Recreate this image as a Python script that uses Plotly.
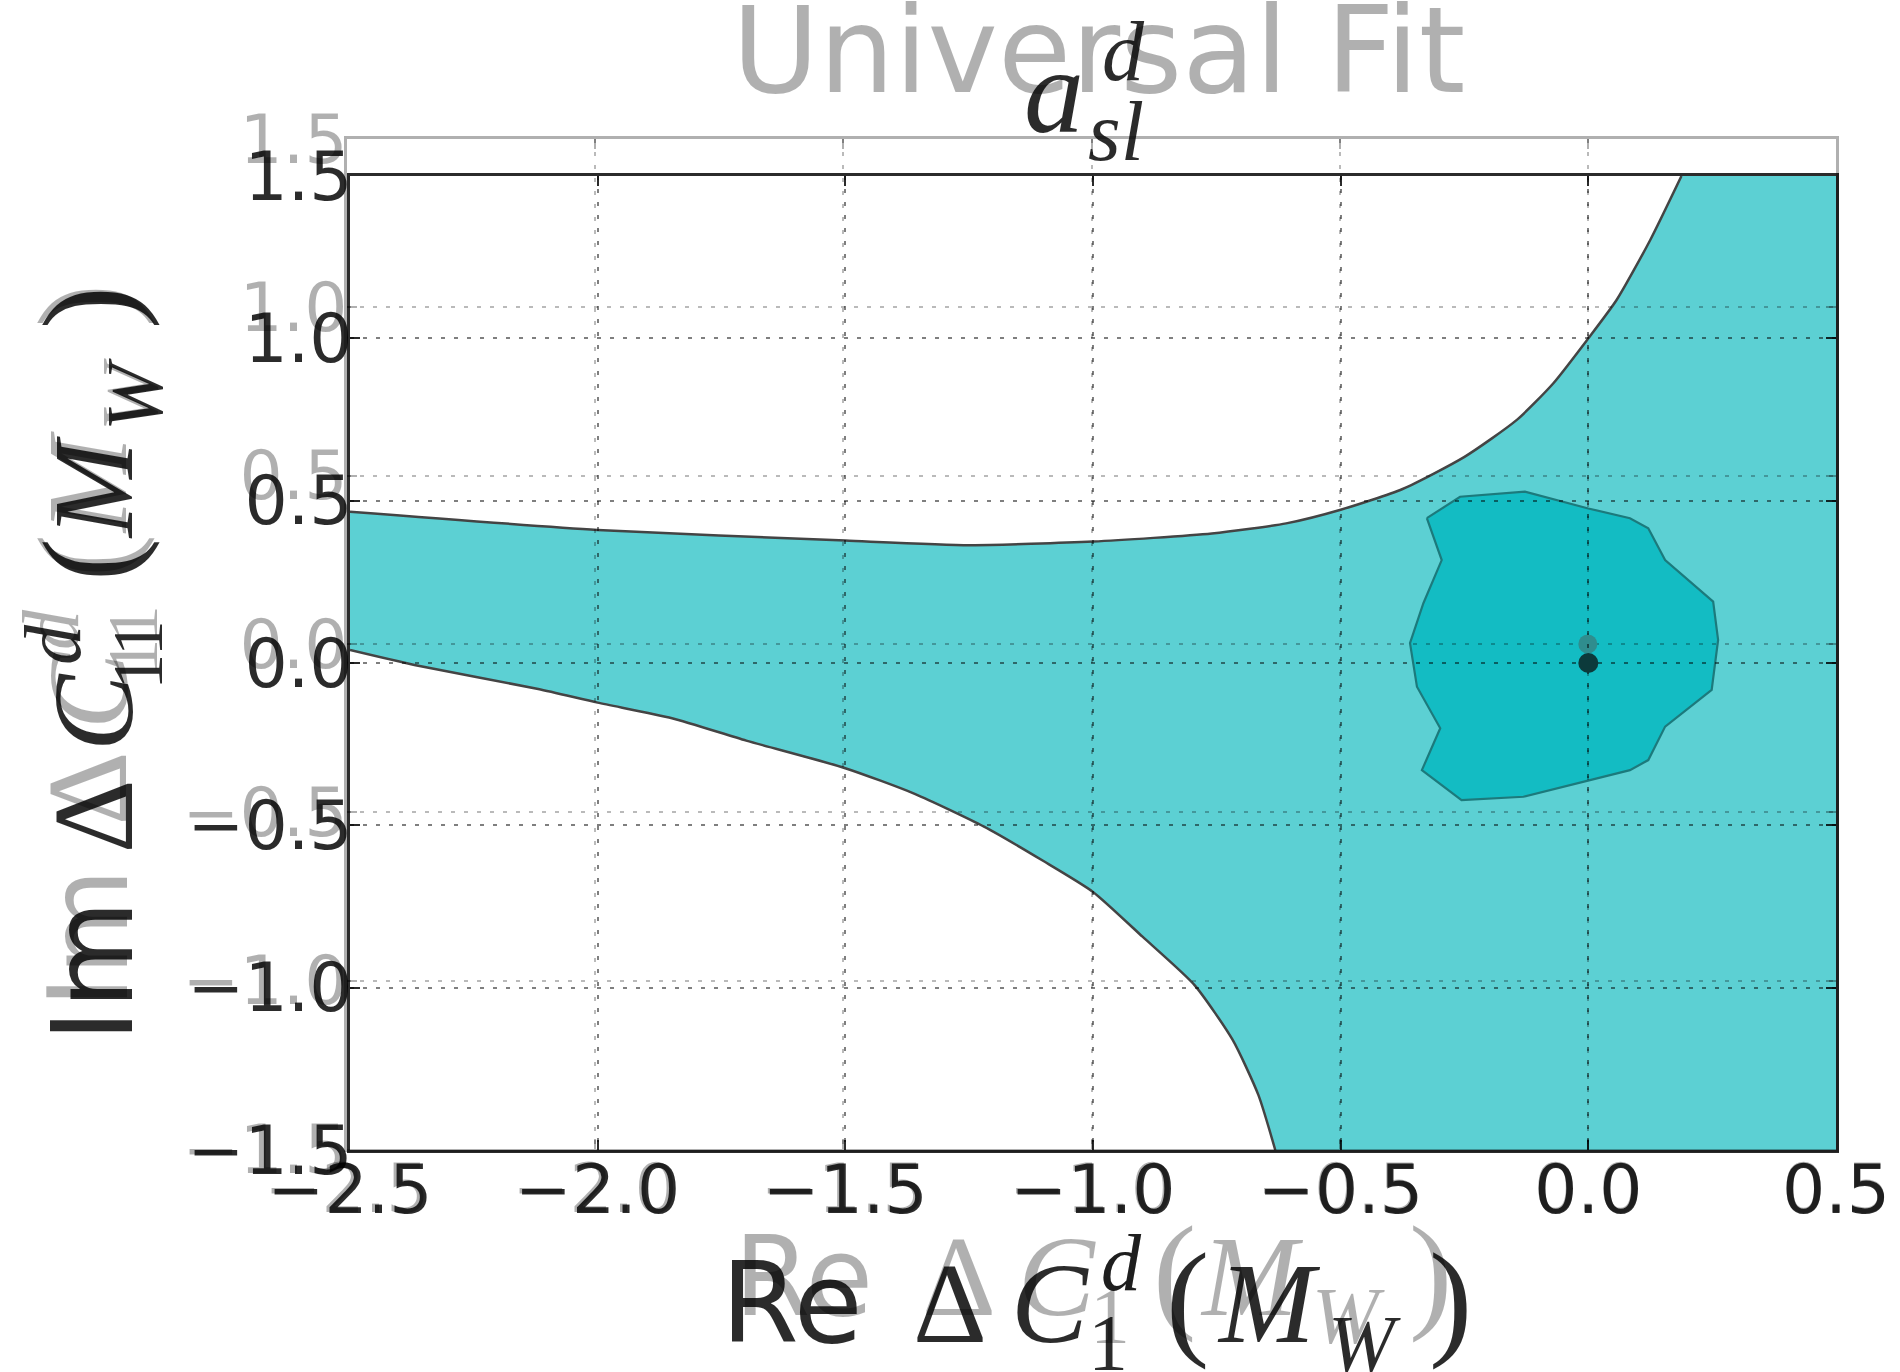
import plotly.graph_objects as go

W, H = 1900, 1372

# ---------------- data ----------------
x_ticks = [-2.5, -2.0, -1.5, -1.0, -0.5, 0.0, 0.5]
x_tick_text = ["\u22122.5", "\u22122.0", "\u22121.5", "\u22121.0", "\u22120.5", "0.0", "0.5"]
y_ticks = [-1.5, -1.0, -0.5, 0.0, 0.5, 1.0, 1.5]
y_tick_text = ["\u22121.5", "\u22121.0", "\u22120.5", "0.0", "0.5", "1.0", "1.5"]

# upper boundary of the allowed (light) region
upper_x = [-2.5, -2.0, -1.5, -1.25, -1.0, -0.76, -0.61, -0.5, -0.375, -0.25, -0.145, -0.071, 0.0, 0.057, 0.125, 0.188]
upper_y = [0.466, 0.410, 0.377, 0.363, 0.374, 0.399, 0.430, 0.472, 0.536, 0.635, 0.748, 0.861, 1.0, 1.118, 1.303, 1.5]
# lower boundary of the allowed (light) region
lower_x = [-2.5, -2.37, -2.12, -2.0, -1.85, -1.7, -1.5, -1.36, -1.22, -1.1, -1.0, -0.9, -0.795, -0.718, -0.666, -0.632]
lower_y = [0.04, -0.006, -0.08, -0.122, -0.17, -0.239, -0.324, -0.403, -0.504, -0.61, -0.705, -0.843, -0.992, -1.161, -1.331, -1.5]
# corners of the plot closing the light region on the right
corner_x = [0.5, 0.5]
corner_y = [1.5, -1.5]

# inner (darker) region
inner_x = [-0.326, -0.296, -0.333, -0.360, -0.346, -0.299, -0.336, -0.256, -0.131, 0.084, 0.121, 0.155,
           0.249, 0.262, 0.252, 0.155, 0.121, 0.084, 0.0, -0.128, -0.259, -0.326]
inner_y = [0.446, 0.317, 0.184, 0.061, -0.073, -0.201, -0.330, -0.422, -0.412, -0.330, -0.299, -0.196,
           -0.083, 0.071, 0.189, 0.317, 0.415, 0.446, 0.476, 0.528, 0.512, 0.446]

# best-fit / SM points
point_x = [0.0]
point_y = [0.0]

# ---------------- styling ----------------
SANS = "DejaVu Sans"
SERIF = "Liberation Serif"
MAIN_C = "rgba(0,0,0,0.83)"
GHOST_C = "rgba(0,0,0,0.31)"
LIGHT_FILL = "#5cd0d3"
DARK_FILL = "#13bcc3"
TICK_SIZE = 68

main_dx = [350 / W, 1836 / W]
main_dy = [1 - 1150 / H, 1 - 176 / H]
ghost_dx = [347 / W, 1836 / W]
ghost_dy = [1 - 1149 / H, 1 - 139 / H]

outer_x = upper_x + corner_x + lower_x[::-1]
outer_y = upper_y + corner_y + lower_y[::-1]

fig = go.Figure()
fig.add_trace(go.Scatter(x=outer_x, y=outer_y, fill="toself", fillcolor=LIGHT_FILL, mode="lines",
                         line=dict(width=0), xaxis="x", yaxis="y", hoverinfo="skip", showlegend=False))
fig.add_trace(go.Scatter(x=upper_x, y=upper_y, mode="lines",
                         line=dict(color="#444444", width=2.5, shape="spline", smoothing=0.6),
                         xaxis="x", yaxis="y", hoverinfo="skip", showlegend=False))
fig.add_trace(go.Scatter(x=lower_x, y=lower_y, mode="lines",
                         line=dict(color="#444444", width=2.5, shape="spline", smoothing=0.6),
                         xaxis="x", yaxis="y", hoverinfo="skip", showlegend=False))
fig.add_trace(go.Scatter(x=inner_x, y=inner_y, fill="toself", fillcolor=DARK_FILL, mode="lines",
                         line=dict(color="#1c7a7c", width=2.2), xaxis="x", yaxis="y",
                         hoverinfo="skip", showlegend=False))
# ghost point (faded overlay figure)
fig.add_trace(go.Scatter(x=point_x, y=point_y, mode="markers",
                         marker=dict(color="#2f8d8e", size=19, line=dict(width=0)),
                         xaxis="x2", yaxis="y2", hoverinfo="skip", showlegend=False))
# main point
fig.add_trace(go.Scatter(x=point_x, y=point_y, mode="markers",
                         marker=dict(color="#0c3a3b", size=20, line=dict(width=0)),
                         xaxis="x3", yaxis="y3", hoverinfo="skip", showlegend=False))


def axis(dom, rng, anchor, vals, text, color, gridcolor, standoff):
    return dict(domain=dom, range=rng, anchor=anchor, showgrid=True,
                gridcolor=gridcolor, griddash="4px,9px", gridwidth=2, zeroline=False,
                showline=True, linecolor=color, linewidth=2.5, mirror="ticks",
                ticks="inside", ticklen=10, tickwidth=2, tickcolor=color,
                tickmode="array", tickvals=vals, ticktext=text, automargin=False,
                ticklabelstandoff=standoff,
                tickfont=dict(family=SANS, size=TICK_SIZE, color=color), fixedrange=True)


layout = dict(
    width=W, height=H, margin=dict(l=0, r=0, t=0, b=0, pad=0, autoexpand=False),
    paper_bgcolor="white", plot_bgcolor="rgba(0,0,0,0)", showlegend=False,
    xaxis=dict(domain=main_dx, range=[-2.5, 0.5], anchor="y", visible=False),
    yaxis=dict(domain=main_dy, range=[-1.5, 1.5], anchor="x", visible=False),
    xaxis2=axis(ghost_dx, [-2.5, 0.5], "y2", x_ticks, x_tick_text, GHOST_C, "rgba(0,0,0,0.27)", -21),
    yaxis2=axis(ghost_dy, [-1.5, 1.5], "x2", y_ticks, y_tick_text, GHOST_C, "rgba(0,0,0,0.27)", -17),
    xaxis3=axis(main_dx, [-2.5, 0.5], "y3", x_ticks, x_tick_text, MAIN_C, "rgba(0,0,0,0.5)", -21),
    yaxis3=axis(main_dy, [-1.5, 1.5], "x3", y_ticks, y_tick_text, MAIN_C, "rgba(0,0,0,0.5)", -19),
)

K = {SANS: 0.346, SERIF: 0.3375}
annotations = []


def put(text, along, base, size, family, color, angle=0):
    k = K[family]
    if angle == 0:
        x, y = along, base - k * size
    else:
        x, y = base - k * size, along
    annotations.append(dict(text=text, x=x / W, y=1 - y / H, xref="paper", yref="paper",
                            xanchor="center", yanchor="middle", showarrow=False, textangle=angle,
                            font=dict(family=family, size=size, color=color)))


# ---- ghost (faded) figure texts ----
put("Universal Fit", 1098, 92, 119, SANS, GHOST_C)
# ghost x label
put("Re", 803, 1315, 110, SANS, GHOST_C)
put("\u0394", 959, 1315, 115, SERIF, GHOST_C)
put("<i>C</i>", 1057, 1315, 115, SERIF, GHOST_C)
put("<i>d</i>", 1121, 1290, 80, SERIF, GHOST_C)
put("1", 1110, 1343, 80, SERIF, GHOST_C)
put("(", 1174, 1315, 130, SERIF, GHOST_C)
put("<i>M</i>", 1252, 1315, 115, SERIF, GHOST_C)
put("<i>W</i>", 1348, 1343, 80, SERIF, GHOST_C)
put(")", 1430, 1315, 130, SERIF, GHOST_C)
# ghost y label (rotated)
put("Im", 938, 127, 110, SANS, GHOST_C, -90)
put("\u0394", 788, 127, 115, SERIF, GHOST_C, -90)
put("<i>C</i>", 690, 127, 115, SERIF, GHOST_C, -90)
put("<i>d</i>", 630, 78, 80, SERIF, GHOST_C, -90)
put("11", 640, 157, 72, SERIF, GHOST_C, -90)
put("(", 556, 127, 130, SERIF, GHOST_C, -90)
put("<i>M</i>", 482, 127, 115, SERIF, GHOST_C, -90)
put("<i>W</i>", 395, 157, 80, SERIF, GHOST_C, -90)
put(")", 306, 127, 130, SERIF, GHOST_C, -90)

# ---- main figure texts ----
put("<i>a</i>", 1054, 132, 120, SERIF, MAIN_C)
put("<i>d</i>", 1123, 80, 84, SERIF, MAIN_C)
put("<i>sl</i>", 1116, 160, 84, SERIF, MAIN_C)
# main x label
put("Re", 792, 1342, 112, SANS, MAIN_C)
put("\u0394", 950, 1342, 115, SERIF, MAIN_C)
put("<i>C</i>", 1050, 1342, 115, SERIF, MAIN_C)
put("<i>d</i>", 1121, 1290, 80, SERIF, MAIN_C)
put("1", 1108, 1370, 80, SERIF, MAIN_C)
put("(", 1187, 1342, 130, SERIF, MAIN_C)
put("<i>M</i>", 1269, 1342, 115, SERIF, MAIN_C)
put("<i>W</i>", 1364, 1371, 80, SERIF, MAIN_C)
put(")", 1450, 1342, 130, SERIF, MAIN_C)
# main y label (rotated)
put("Im", 971, 132, 112, SANS, MAIN_C, -90)
put("\u0394", 816, 132, 115, SERIF, MAIN_C, -90)
put("<i>C</i>", 712, 132, 115, SERIF, MAIN_C, -90)
put("<i>d</i>", 645, 80, 80, SERIF, MAIN_C, -90)
put("11", 655, 162, 72, SERIF, MAIN_C, -90)
put("(", 560, 132, 130, SERIF, MAIN_C, -90)
put("<i>M</i>", 487, 132, 115, SERIF, MAIN_C, -90)
put("<i>W</i>", 395, 162, 80, SERIF, MAIN_C, -90)
put(")", 308, 132, 130, SERIF, MAIN_C, -90)

layout["annotations"] = annotations
fig.update_layout(**layout)
fig.write_html("out.html", config={"displayModeBar": False})
